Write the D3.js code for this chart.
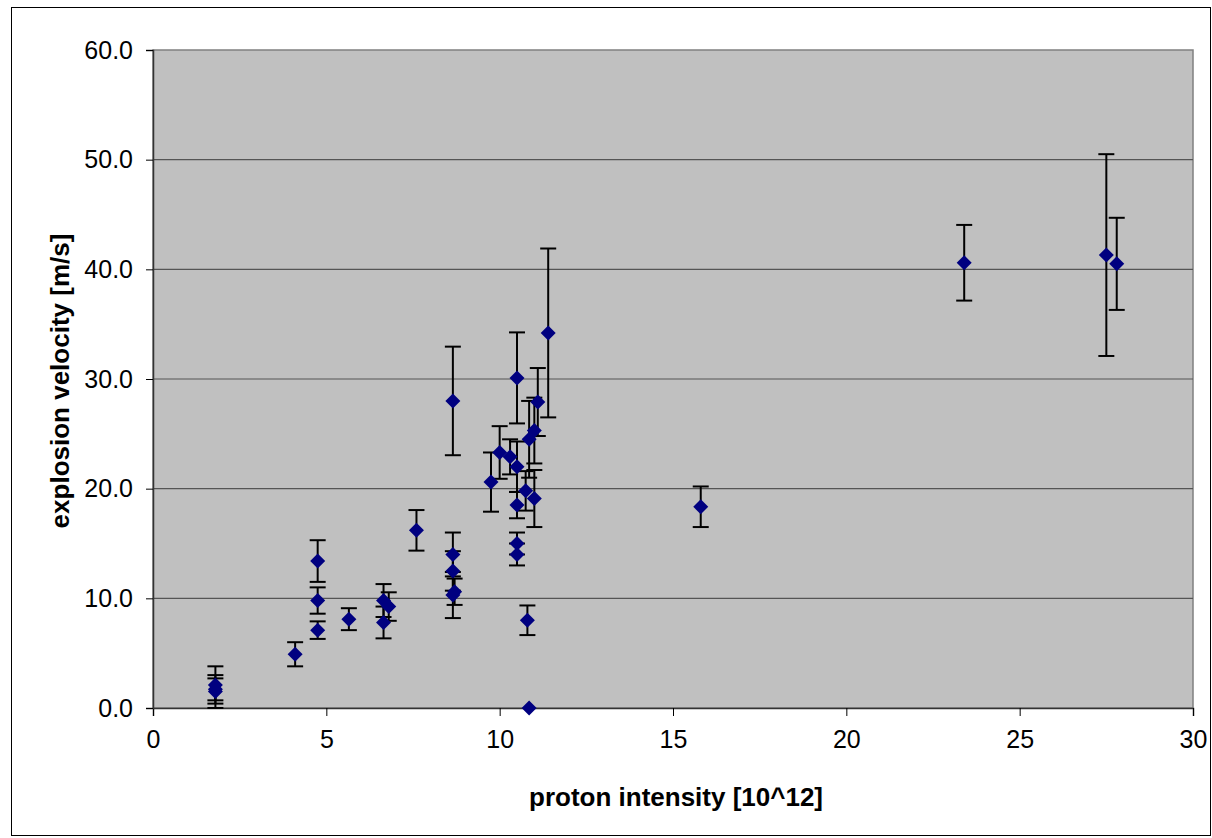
<!DOCTYPE html>
<html>
<head>
<meta charset="utf-8">
<script src="https://cdn.jsdelivr.net/npm/d3@7"></script>
<style>
  body { margin: 0; background: #fff; }
  text { font-family: "Liberation Sans", Arial, sans-serif; }
</style>
</head>
<body>
<svg id="chart"></svg>
<script>
// proton intensity [10^12]
let intensity = [1.8, 1.8, 1.8, 4.1, 4.75, 4.75, 4.75, 5.65, 6.65, 6.8, 6.65, 7.6,
  8.65, 8.65, 8.65, 8.7, 8.65, 9.75, 10.0, 10.3, 10.5, 10.5, 10.5, 10.5, 10.5,
  10.75, 10.85, 11.0, 11.1, 11.0, 11.4, 10.8, 10.85, 15.8, 23.4, 27.5, 27.8];
// explosion velocity [m/s]
let velocity = [2.1, 1.5, 1.7, 4.9, 13.4, 9.8, 7.1, 8.1, 9.8, 9.25, 7.8, 16.2,
  28.0, 14.0, 12.5, 10.6, 10.3, 20.6, 23.3, 22.9, 22.0, 18.5, 15.0, 14.0, 30.1,
  19.8, 24.5, 25.3, 27.9, 19.1, 34.2, 8.0, 0.0, 18.35, 40.6, 41.3, 40.5];
// error (+/-)
let velocityErr = [1.7, 1.5, 1.0, 1.1, 1.9, 1.2, 0.8, 1.0, 1.5, 1.3, 1.45, 1.85,
  4.95, 2.0, 1.8, 1.2, 2.1, 2.7, 2.4, 1.6, 2.3, 1.2, 1.0, 1.0, 4.15,
  1.8, 3.5, 3.0, 3.1, 2.6, 7.7, 1.35, 0, 1.85, 3.45, 9.2, 4.2];

let xTicks = [0, 5, 10, 15, 20, 25, 30];
let yTicks = [0, 10, 20, 30, 40, 50, 60];

let data = intensity.map((x, i) => ({ x: x, y: velocity[i], e: velocityErr[i] }));

let W = 1212, H = 838;
let margin = { top: 50, left: 153, right: 19, bottom: 130 };
let width = W - margin.left - margin.right;
let height = H - margin.top - margin.bottom;

let svg = d3.select('#chart').attr('width', W).attr('height', H);

// outer chart border
svg.append('rect')
  .attr('x', 11.5).attr('y', 7.5)
  .attr('width', W - 13).attr('height', H - 10)
  .attr('fill', 'white').attr('stroke', '#000').attr('stroke-width', 1);

let x = d3.scaleLinear().domain([0, 30]).range([0, width]);
let y = d3.scaleLinear().domain([0, 60]).range([height, 0]);

let g = svg.append('g').attr('transform', `translate(${margin.left},${margin.top})`);

g.append('rect')
  .attr('width', width).attr('height', height)
  .attr('fill', '#c0c0c0').attr('stroke', '#808080').attr('stroke-width', 1.5);

// gridlines
g.selectAll('.grid').data(yTicks.filter(d => d > 0 && d < 60)).enter().append('line')
  .attr('x1', 0).attr('x2', width)
  .attr('y1', d => y(d)).attr('y2', d => y(d))
  .attr('stroke', '#555').attr('stroke-width', 1.2);

let xAxis = g.append('g')
  .attr('transform', `translate(0,${height})`)
  .call(d3.axisBottom(x).tickValues(xTicks).tickSize(8).tickPadding(14));
let yAxis = g.append('g')
  .call(d3.axisLeft(y).tickValues(yTicks).tickFormat(d3.format('.1f')).tickSize(7).tickPadding(13));

[xAxis, yAxis].forEach(a => {
  a.select('.domain').attr('stroke', '#333').attr('stroke-width', 1.5);
  a.selectAll('.tick line').attr('stroke', '#000');
  a.selectAll('.tick text').attr('font-size', 25).attr('fill', '#000')
    .style('font-family', '"Liberation Sans", Arial, sans-serif');
});

// error bars
let err = g.append('g').selectAll('g').data(data.filter(d => d.e > 0)).enter().append('g')
  .attr('stroke', '#000').attr('stroke-width', 2);
err.append('line')
  .attr('x1', d => x(d.x)).attr('x2', d => x(d.x))
  .attr('y1', d => y(d.y + d.e)).attr('y2', d => y(Math.max(0, d.y - d.e)));
err.append('line')
  .attr('x1', d => x(d.x) - 8).attr('x2', d => x(d.x) + 8)
  .attr('y1', d => y(d.y + d.e)).attr('y2', d => y(d.y + d.e));
err.append('line')
  .attr('x1', d => x(d.x) - 8).attr('x2', d => x(d.x) + 8)
  .attr('y1', d => y(Math.max(0, d.y - d.e))).attr('y2', d => y(Math.max(0, d.y - d.e)));

// markers
g.selectAll('.pt').data(data).enter().append('path')
  .attr('d', 'M0,-7.5L7.5,0L0,7.5L-7.5,0Z')
  .attr('transform', d => `translate(${x(d.x)},${y(d.y)})`)
  .attr('fill', '#000080');

// axis titles
svg.append('text')
  .attr('x', margin.left + width / 2 + 3).attr('y', 806)
  .attr('text-anchor', 'middle')
  .attr('font-size', 26).attr('font-weight', 'bold')
  .text('proton intensity [10^12]');

svg.append('text')
  .attr('transform', `translate(69,${margin.top + height / 2 + 2}) rotate(-90)`)
  .attr('text-anchor', 'middle')
  .attr('font-size', 26).attr('font-weight', 'bold')
  .text('explosion velocity [m/s]');
</script>
</body>
</html>
